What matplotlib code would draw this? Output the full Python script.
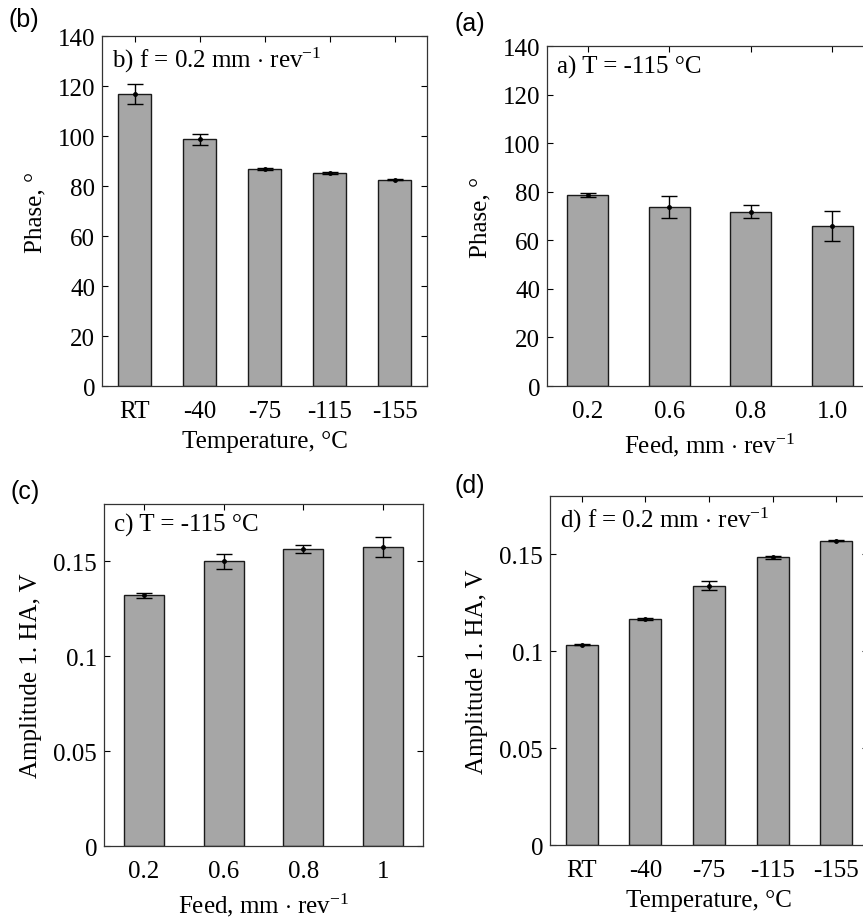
import matplotlib
matplotlib.use("Agg")
from matplotlib import pyplot as plt
import numpy as np

# panel (b): phase vs temperature, f = 0.2
temp_labels = ["RT", "-40", "-75", "-115", "-155"]
phase_temp = [116.8, 98.8, 86.8, 85.3, 82.6]
phase_temp_err = [4.0, 2.2, 0.5, 0.35, 0.35]

# panel (a): phase vs feed, T = -115
feed_labels_a = ["0.2", "0.6", "0.8", "1.0"]
phase_feed = [78.6, 73.7, 71.8, 65.9]
phase_feed_err = [0.7, 4.6, 2.6, 6.0]

# panel (c): amplitude vs feed, T = -115
feed_labels_c = ["0.2", "0.6", "0.8", "1"]
amp_feed = [0.1319, 0.1498, 0.1565, 0.1574]
amp_feed_err = [0.0013, 0.0040, 0.0022, 0.0055]

# panel (d): amplitude vs temperature, f = 0.2
amp_temp = [0.1033, 0.1166, 0.1338, 0.1483, 0.1569]
amp_temp_err = [0.0003, 0.0003, 0.0023, 0.0008, 0.0003]

plt.rcParams["font.family"] = ["Liberation Serif", "DejaVu Serif"]
plt.rcParams["mathtext.fontset"] = "custom"
plt.rcParams["mathtext.rm"] = "Liberation Serif"
plt.rcParams["mathtext.it"] = "Liberation Serif:italic"

BAR = "#a6a6a6"
FS = 18


def draw(ax, labels, vals, errs, ylim, yticks, yticklabels, ylabel, xlabel, note):
    x = np.arange(1, len(vals) + 1)
    ax.bar(x, vals, width=0.5, color=BAR, edgecolor="#1a1a1a", linewidth=1.0, zorder=2)
    ax.errorbar(x, vals, yerr=errs, fmt="o", color="black", markersize=2.5,
                capsize=6, elinewidth=1.0, capthick=1.0, zorder=3)
    ax.set_xlim(0.5, len(vals) + 0.5)
    ax.set_ylim(*ylim)
    ax.set_xticks(x)
    ax.set_xticklabels(labels)
    ax.set_yticks(yticks)
    ax.set_yticklabels(yticklabels)
    ax.tick_params(direction="in", length=4, width=0.8, top=True, right=True,
                   labelsize=FS, pad=5)
    ax.tick_params(axis="x", pad=10)
    for s in ax.spines.values():
        s.set_linewidth(0.9)
        s.set_color("#333333")
    ax.set_ylabel(ylabel, fontsize=FS, labelpad=8)
    ax.set_xlabel(xlabel, fontsize=FS, labelpad=6)
    ax.text(0.03, 0.975, note, transform=ax.transAxes, ha="left", va="top", fontsize=FS)


fig = plt.figure(figsize=(8.63, 9.2), dpi=100)

ax_b = fig.add_axes([0.1182, 0.5793, 0.3766, 0.3804])
ax_a = fig.add_axes([0.6338, 0.5793, 0.3777, 0.3696])
ax_c = fig.add_axes([0.1205, 0.0793, 0.3697, 0.3717])
ax_d = fig.add_axes([0.6373, 0.0804, 0.3685, 0.3794])

phase_ticks = np.arange(0, 141, 20)
amp_ticks = [0, 0.05, 0.1, 0.15]
amp_ticklabels = ["0", "0.05", "0.1", "0.15"]

draw(ax_b, temp_labels, phase_temp, phase_temp_err, (0, 140), phase_ticks,
     [str(t) for t in phase_ticks], "Phase, °", "Temperature, °C",
     r"b) f = 0.2 mm $\cdot$ rev$^{-1}$")
draw(ax_a, feed_labels_a, phase_feed, phase_feed_err, (0, 140), phase_ticks,
     [str(t) for t in phase_ticks], "Phase, °", r"Feed, mm $\cdot$ rev$^{-1}$",
     "a) T = -115 °C")
draw(ax_c, feed_labels_c, amp_feed, amp_feed_err, (0, 0.18), amp_ticks,
     amp_ticklabels, "Amplitude 1. HA, V", r"Feed, mm $\cdot$ rev$^{-1}$",
     "c) T = -115 °C")
draw(ax_d, temp_labels, amp_temp, amp_temp_err, (0, 0.18), amp_ticks,
     amp_ticklabels, "Amplitude 1. HA, V", "Temperature, °C",
     r"d) f = 0.2 mm $\cdot$ rev$^{-1}$")

# panel letters
for lab, px, py in [("(b)", 8, 8), ("(a)", 454, 12), ("(c)", 10, 480), ("(d)", 454, 474)]:
    fig.text(px / 863, 1 - py / 920, lab, ha="left", va="top",
             fontsize=18, family=["Liberation Sans", "DejaVu Sans"])

fig.savefig("out.png", dpi=100)
